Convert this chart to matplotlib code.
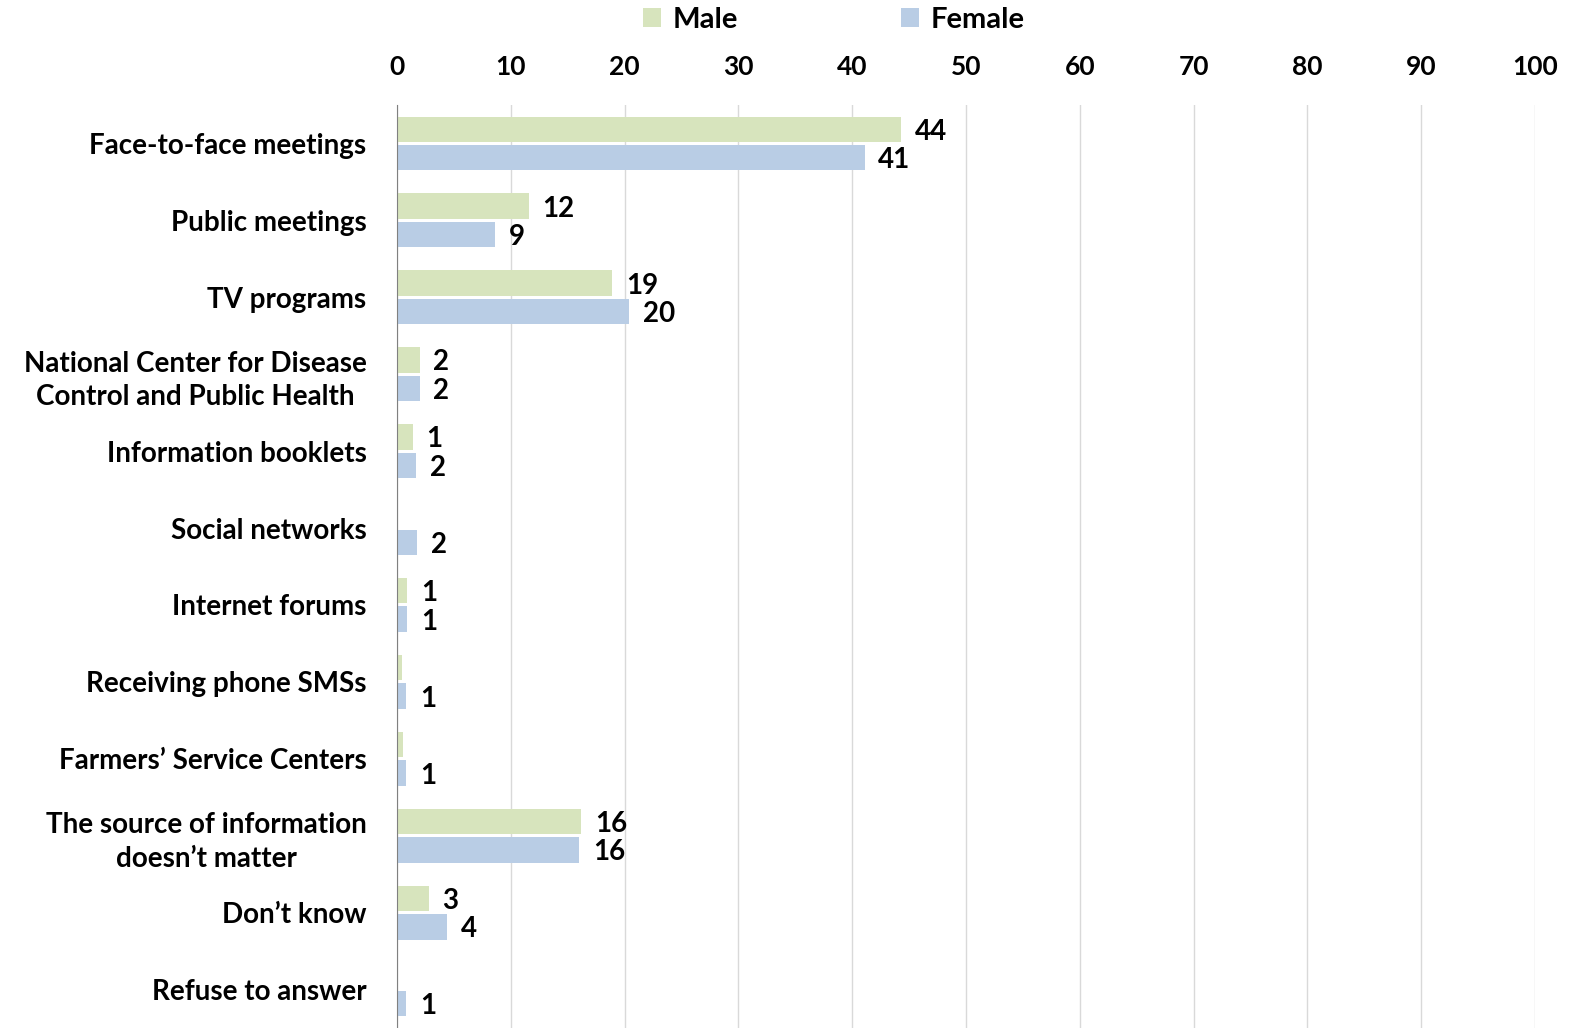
import matplotlib.pyplot as plt
import numpy as np

categories = [
    "Face-to-face meetings",
    "Public meetings",
    "TV programs",
    "National Center for Disease\nControl and Public Health",
    "Information booklets",
    "Social networks",
    "Internet forums",
    "Receiving phone SMSs",
    "Farmers\u2019 Service Centers",
    "The source of information\ndoesn\u2019t matter",
    "Don\u2019t know",
    "Refuse to answer",
]
male = [44.3, 11.6, 18.9, 2.0, 1.4, 0.1, 0.9, 0.4, 0.5, 16.2, 2.8, 0.1]
female = [41.1, 8.6, 20.4, 2.0, 1.7, 1.8, 0.9, 0.8, 0.8, 16.0, 4.4, 0.8]

plt.rcParams['font.family'] = ['Lato', 'DejaVu Sans']
plt.rcParams['font.weight'] = 'bold'

fig = plt.figure(figsize=(15.73, 10.28), dpi=100)
ax = fig.add_axes([397 / 1573, 0.0, (1535 - 397) / 1573, (1028 - 105) / 1028])

y = np.arange(len(categories))
h = 0.33
off = 0.185
bm = ax.barh(y - off, male, height=h, color='#d7e4bd', label='Male', zorder=3)
bf = ax.barh(y + off, female, height=h, color='#b9cde5', label='Female', zorder=3)

for bars, vals in ((bm, male), (bf, female)):
    for b, v in zip(bars, vals):
        if round(v) >= 1:
            ax.text(v + 1.2, b.get_y() + b.get_height() / 2, f"{round(v)}",
                    va='center_baseline', ha='left', fontsize=20, fontweight='bold')

ax.set_xlim(0, 100)
ax.set_ylim(len(categories) - 0.5, -0.5)
ax.set_xticks(range(0, 101, 10))
ax.xaxis.tick_top()
ax.tick_params(axis='x', length=0, pad=19, labelsize=19)
ax.tick_params(axis='y', length=0, pad=22, labelsize=20)
ax.set_yticks(y)
ax.set_yticklabels(categories, fontweight='bold', multialignment='center',
                   linespacing=1.35)
for lab in ax.get_xticklabels():
    lab.set_fontweight('bold')

ax.grid(axis='x', color='#d9d9d9', linewidth=1, zorder=0)
for s in ('top', 'right', 'bottom'):
    ax.spines[s].set_visible(False)
ax.spines['left'].set_color('#808080')
ax.spines['left'].set_zorder(4)

fig.legend(loc='upper center', bbox_to_anchor=(834 / 1573, 1.019), ncol=2,
           frameon=False, fontsize=21, handlelength=0.6, handleheight=0.6,
           columnspacing=5.6, handletextpad=0.4)

fig.savefig('out.png', dpi=100)
